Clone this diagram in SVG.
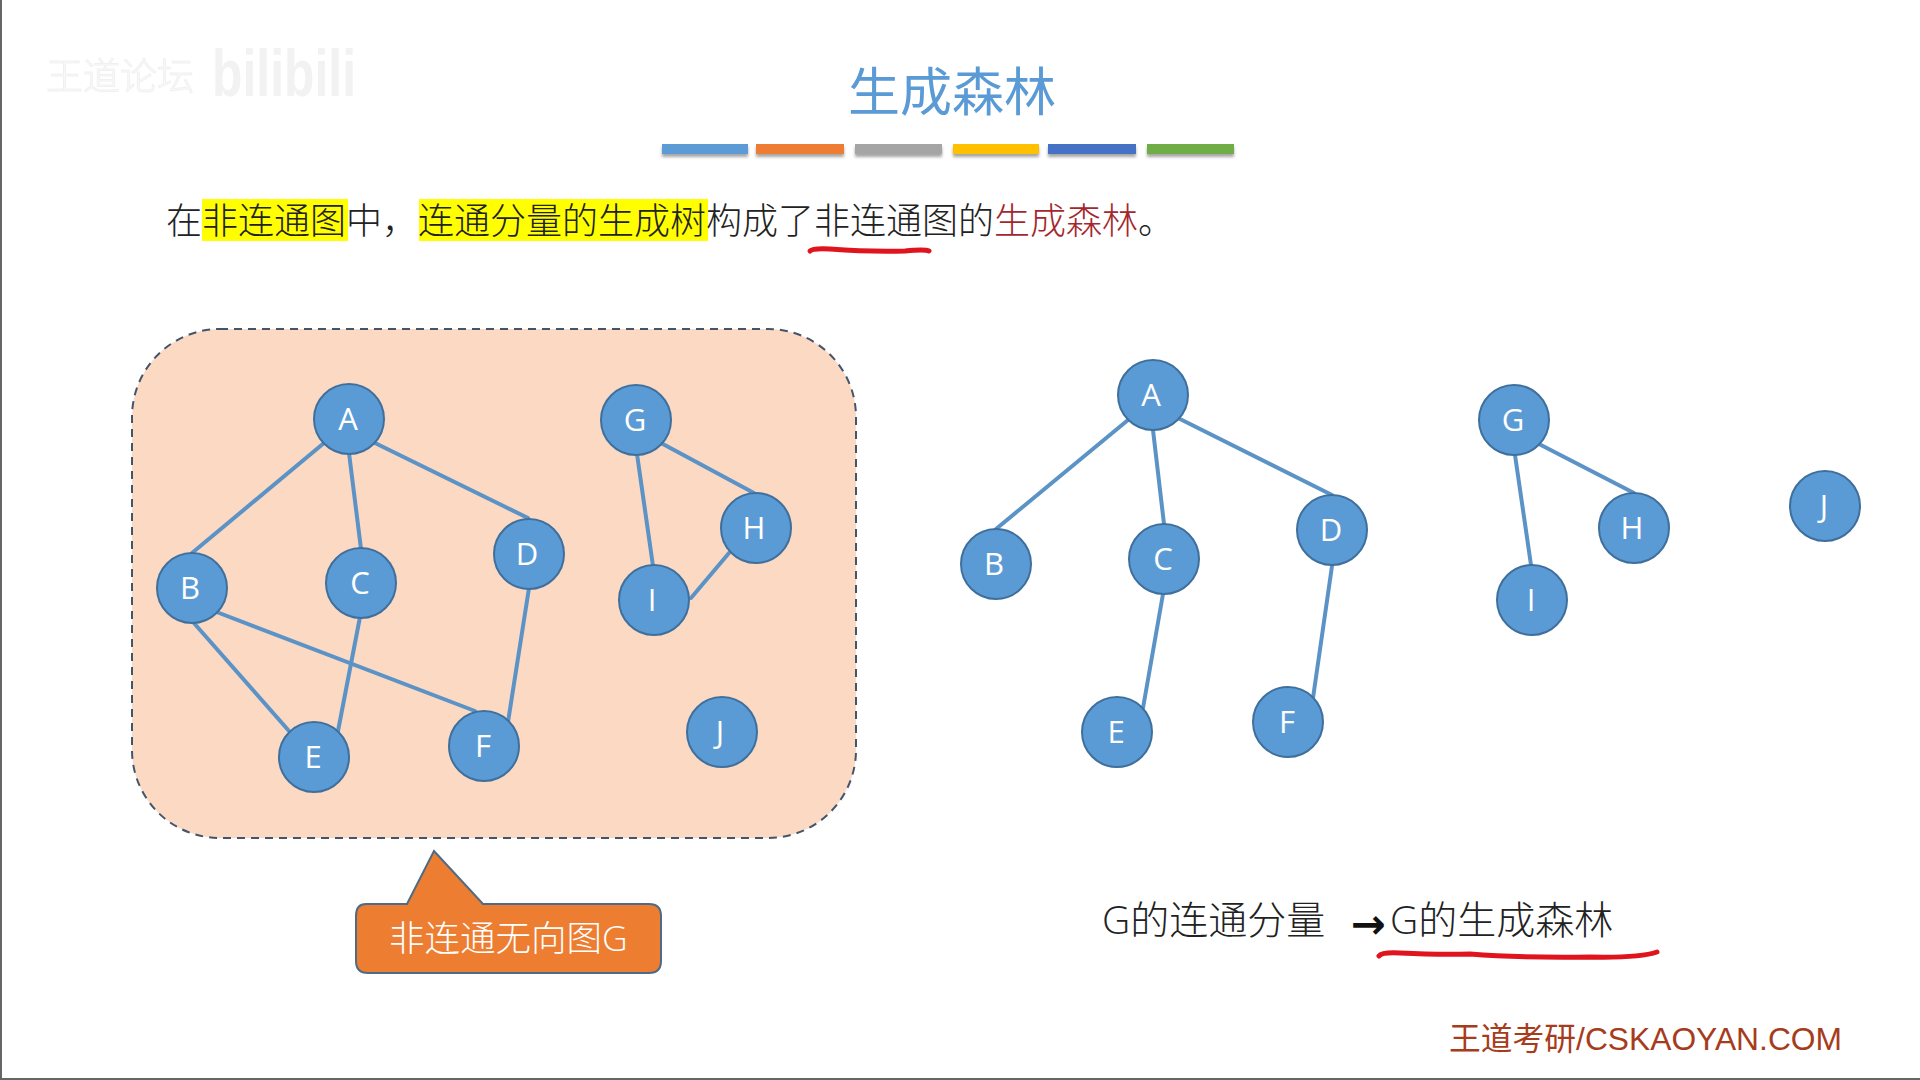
<svg xmlns="http://www.w3.org/2000/svg" width="1920" height="1080" viewBox="0 0 1920 1080">
<style>
text { font-family: "Liberation Sans", "Noto Sans CJK SC", sans-serif; }
.cjk { font-family: "Noto Sans CJK SC", sans-serif; font-weight: 300; }
.body { font-size: 36px; fill: #222; }
.lab { font-family: "Open Sans", "Noto Sans", sans-serif; font-size: 31px; fill: #fff; text-anchor: middle; }
.node { fill: #5b9bd5; stroke: #3f6f9c; stroke-width: 2; }
.edges line { stroke: #5b93c7; stroke-width: 4; stroke-linecap: round; }
.ink { fill: none; stroke: #e0141c; stroke-width: 5; stroke-linecap: round; stroke-linejoin: round; }
.arrow { font-family: "DejaVu Sans", sans-serif; font-weight: 700; }
</style>
<defs>
<filter id="barShadow" x="-10%" y="-50%" width="120%" height="220%">
<feDropShadow dx="0" dy="3" stdDeviation="1.5" flood-color="#000" flood-opacity="0.35"/>
</filter>
</defs>
<rect width="1920" height="1080" fill="#fff"/>
<path d="M1 0V1079H1920" fill="none" stroke="#666" stroke-width="2"/>

<g id="watermark" opacity="0.9">
<text x="46" y="90" font-size="37" fill="#fbfbfb" stroke="#efefef" stroke-width="1" class="cjk">王道论坛</text>
<text x="212" y="96" font-size="66" font-weight="700" fill="#f1f1f1" textLength="144" lengthAdjust="spacingAndGlyphs">bilibili</text>
</g>

<g id="title">
<text x="952" y="111" font-size="52" fill="#5b9bd5" text-anchor="middle" class="cjk" style="font-weight:400">生成森林</text>
<g filter="url(#barShadow)">
<rect x="662" y="144" width="86" height="10" fill="#5b9bd5"/>
<rect x="756" y="144" width="88" height="10" fill="#ed7d31"/>
<rect x="855" y="144" width="87" height="10" fill="#a5a5a5"/>
<rect x="953" y="144" width="86" height="10" fill="#ffc000"/>
<rect x="1048" y="144" width="88" height="10" fill="#4472c4"/>
<rect x="1147" y="144" width="87" height="10" fill="#70ad47"/>
</g>
</g>

<g id="statement">
<rect x="202" y="199" width="146" height="42" fill="#ffff00"/>
<rect x="419" y="199" width="289" height="42" fill="#ffff00"/>
<text x="166" y="234" class="body cjk" textLength="1008" lengthAdjust="spacing">在非连通图中，连通分量的生成树构成了非连通图的<tspan fill="#a3282e">生成森林</tspan>。</text>
<path class="ink" d="M810 251Q813 248 830 249Q870 252 905 251Q925 249 929 251"/>
</g>

<g id="region">
<rect x="132" y="329" width="724" height="509" rx="88" fill="#fbd9c3" stroke="#44546a" stroke-width="2" stroke-dasharray="8 6"/>
</g>

<g id="connectors" class="edges">
<line x1="324" y1="443" x2="192" y2="553"/>
<line x1="349" y1="453" x2="361" y2="549"/>
<line x1="375" y1="443" x2="528" y2="518"/>
<line x1="193" y1="622" x2="289" y2="731"/>
<line x1="214" y1="611" x2="475" y2="711"/>
<line x1="360" y1="617" x2="338" y2="731"/>
<line x1="529" y1="588" x2="508" y2="722"/>
<line x1="661" y1="443" x2="754" y2="493"/>
<line x1="637" y1="454" x2="653" y2="566"/>
<line x1="729" y1="553" x2="691" y2="598"/>
<line x1="1128" y1="420" x2="996" y2="529"/>
<line x1="1153" y1="430" x2="1164" y2="524"/>
<line x1="1180" y1="419" x2="1332" y2="495"/>
<line x1="1163" y1="594" x2="1143" y2="708"/>
<line x1="1332" y1="566" x2="1313" y2="698"/>
<line x1="1539" y1="444" x2="1634" y2="493"/>
<line x1="1515" y1="455" x2="1531" y2="565"/>
</g>

<g id="g-A"><circle class="node" cx="349" cy="419" r="35"/><text class="lab" x="348" y="430">A</text></g>
<g id="g-B"><circle class="node" cx="192" cy="588" r="35"/><text class="lab" x="190" y="599">B</text></g>
<g id="g-C"><circle class="node" cx="361" cy="583" r="35"/><text class="lab" x="360" y="594">C</text></g>
<g id="g-D"><circle class="node" cx="529" cy="554" r="35"/><text class="lab" x="527" y="565">D</text></g>
<g id="g-E"><circle class="node" cx="314" cy="757" r="35"/><text class="lab" x="313" y="768">E</text></g>
<g id="g-F"><circle class="node" cx="484" cy="746" r="35"/><text class="lab" x="483" y="757">F</text></g>
<g id="g-G"><circle class="node" cx="636" cy="420" r="35"/><text class="lab" x="635" y="431">G</text></g>
<g id="g-H"><circle class="node" cx="756" cy="528" r="35"/><text class="lab" x="754" y="539">H</text></g>
<g id="g-I"><circle class="node" cx="654" cy="600" r="35"/><text class="lab" x="652" y="611">I</text></g>
<g id="g-J"><circle class="node" cx="722" cy="732" r="35"/><text class="lab" x="720" y="743">J</text></g>

<g id="t-A"><circle class="node" cx="1153" cy="395" r="35"/><text class="lab" x="1151" y="406">A</text></g>
<g id="t-B"><circle class="node" cx="996" cy="564" r="35"/><text class="lab" x="994" y="575">B</text></g>
<g id="t-C"><circle class="node" cx="1164" cy="559" r="35"/><text class="lab" x="1163" y="570">C</text></g>
<g id="t-D"><circle class="node" cx="1332" cy="530" r="35"/><text class="lab" x="1331" y="541">D</text></g>
<g id="t-E"><circle class="node" cx="1117" cy="732" r="35"/><text class="lab" x="1116" y="743">E</text></g>
<g id="t-F"><circle class="node" cx="1288" cy="722" r="35"/><text class="lab" x="1287" y="733">F</text></g>
<g id="t-G"><circle class="node" cx="1514" cy="420" r="35"/><text class="lab" x="1513" y="431">G</text></g>
<g id="t-H"><circle class="node" cx="1634" cy="528" r="35"/><text class="lab" x="1632" y="539">H</text></g>
<g id="t-I"><circle class="node" cx="1532" cy="600" r="35"/><text class="lab" x="1531" y="611">I</text></g>
<g id="t-J"><circle class="node" cx="1825" cy="506" r="35"/><text class="lab" x="1824" y="517">J</text></g>

<g id="callout">
<path d="M366 904H407L434 851L483 904H649Q661 904 661 916V961Q661 973 649 973H368Q356 973 356 961V916Q356 904 366 904Z" fill="#ed7d31" stroke="#4f6a85" stroke-width="2"/>
<text x="389" y="951" font-size="35.5" fill="#fff" class="cjk">非连通无向图<tspan font-family="Open Sans">G</tspan></text>
</g>

<g id="caption">
<text x="1102" y="934" font-size="39" fill="#222" class="cjk"><tspan font-family="Open Sans">G</tspan>的连通分量</text>
<text x="1351" y="938" font-size="41" fill="#111" class="arrow" textLength="35" lengthAdjust="spacingAndGlyphs">→</text>
<text x="1390" y="934" font-size="39" fill="#222" class="cjk"><tspan font-family="Open Sans">G</tspan>的生成森林</text>
<path class="ink" d="M1379 956Q1382 952 1400 953Q1440 955 1470 954Q1520 958 1590 957Q1640 958 1657 952"/>
</g>

<text id="footer" x="1449" y="1050" font-size="32" fill="#a63c1c" textLength="393" lengthAdjust="spacingAndGlyphs">王道考研/CSKAOYAN.COM</text>
</svg>
